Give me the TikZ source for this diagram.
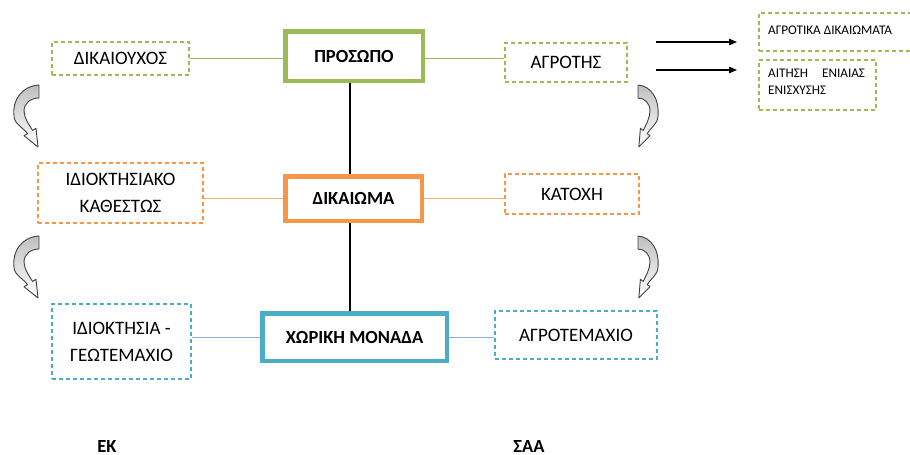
\documentclass[tikz,border=0pt]{standalone}
\usepackage{fontspec}
\setmainfont{Carlito}
\usetikzlibrary{arrows.meta}

\definecolor{grn}{HTML}{9BBB59}
\definecolor{org}{HTML}{F79646}
\definecolor{blu}{HTML}{4BACC6}
\definecolor{bluline}{HTML}{8FAADC}
\definecolor{arrowedge}{HTML}{404040}

\tikzset{
  mainbox/.style={draw, line width=4.5, fill=white, inner sep=0,
    font=\fontsize{18.5}{27}\selectfont\bfseries},
  sidebox/.style={draw, line width=1.3, dash pattern=on 4 off 3, inner sep=0,
    align=center, font=\fontsize{19}{27}\selectfont},
  smallbox/.style={draw=grn, line width=1.3, dash pattern=on 4 off 3, inner sep=0},
  smalltext/.style={inner sep=0, anchor=west, align=left,
    font=\fontsize{13.2}{17}\selectfont},
  link/.style={line width=1},
  spineline/.style={line width=1.2, black},
  pointer/.style={line width=1.2, -{Triangle[length=8,width=6.5]}},
  curvearrow/.style={draw=arrowedge, line width=0.9, line join=round,
    top color=gray!50, bottom color=white}
}

% curved block arrow, drawn in local coordinates from its upper end
\newcommand{\curvedblock}[1]{%
  \begin{scope}[#1]
    \path[curvearrow]
      (0,0) .. controls (-17,1) and (-27,15) .. (-25,31)
            .. controls (-25,39) and (-14.7,43.5) .. (-11.5,48.6)
      -- (-15,50.7) -- (-1,62) -- (-3,43.3) -- (-6.45,45.4)
            .. controls (-9.6,40.3) and (-15,33) .. (-15,26)
            .. controls (-15,18) and (-8,13) .. (0,13)
      -- cycle;
  \end{scope}}

\begin{document}
\begin{tikzpicture}[x=1pt, y=-1pt]
  \useasboundingbox (0,0) rectangle (910,455);

  % central column
  \node[mainbox, draw=grn, minimum width=137.5, minimum height=49.5] (pros) at (354,56) {ΠΡΟΣΩΠΟ};
  \node[mainbox, draw=org, minimum width=136.5, minimum height=44.5] (dikm) at (353.5,198.5) {ΔΙΚΑΙΩΜΑ};
  \node[mainbox, draw=blu, minimum width=184.5, minimum height=47.5] (xor) at (354.5,337) {ΧΩΡΙΚΗ ΜΟΝΑΔΑ};

  % left column
  \node[sidebox, draw=grn, minimum width=137, minimum height=33] (dik) at (120.5,58.5) {ΔΙΚΑΙΟΥΧΟΣ};
  \node[sidebox, draw=org, minimum width=165, minimum height=60] (idk) at (120.5,193) {ΙΔΙΟΚΤΗΣΙΑΚΟ\\ΚΑΘΕΣΤΩΣ};
  \node[sidebox, draw=blu, minimum width=139, minimum height=75] (idg) at (121.5,341.5) {ΙΔΙΟΚΤΗΣΙΑ -\\ΓΕΩΤΕΜΑΧΙΟ};

  % right column
  \node[sidebox, draw=grn, minimum width=122, minimum height=39] (agr) at (566,62.5) {ΑΓΡΟΤΗΣ};
  \node[sidebox, draw=org, minimum width=134, minimum height=40] (kat) at (572,194) {ΚΑΤΟΧΗ};
  \node[sidebox, draw=blu, minimum width=162, minimum height=48] (agt) at (576,335) {ΑΓΡΟΤΕΜΑΧΙΟ};

  % far right boxes
  \node[smallbox, minimum width=152, minimum height=38] (agd) at (835,32) {};
  \node[smallbox, minimum width=117, minimum height=50] (ait) at (817.5,85) {};
  \node[smalltext] (agdtxt) at (768,30) {ΑΓΡΟΤΙΚΑ ΔΙΚΑΙΩΜΑΤΑ};
  \node[smalltext, anchor=north west] (aittxt) at (768,69) {ΑΙΤΗΣΗ\hspace{14pt}ΕΝΙΑΙΑΣ\\ΕΝΙΣΧΥΣΗΣ};

  % connectors
  \coordinate (spine) at (350,0);
  \draw[spineline] (pros.south -| spine) -- (dikm.north -| spine);
  \draw[spineline] (dikm.south -| spine) -- (xor.north -| spine);

  \draw[link, draw=grn] (dik.east) -- (dik.east -| pros.west);
  \draw[link, draw=grn] (pros.east |- dik.east) -- (agr.west |- dik.east);
  \draw[link, draw=org!80] (idk.east |- dikm.west) -- (dikm.west);
  \draw[link, draw=org!80] (dikm.east) -- (kat.west |- dikm.east);
  \draw[link, draw=bluline] (idg.east |- xor.west) -- (xor.west);
  \draw[link, draw=bluline] (xor.east) -- (agt.west |- xor.east);

  % arrows toward the far right boxes
  \coordinate (p1s) at (656,42);
  \coordinate (p1e) at (737,42);
  \coordinate (p2s) at (656,70);
  \coordinate (p2e) at (737,70);
  \draw[pointer] (p1s) -- (p1e);
  \draw[pointer] (p2s) -- (p2e);

  % curved block arrows between rows
  \curvedblock{shift={(39,85)}}
  \curvedblock{shift={(39,236)}}
  \curvedblock{shift={(638,85)}, xscale=-0.8}
  \curvedblock{shift={(638,236)}, xscale=-0.8}

  % column captions
  \node[inner sep=0, font=\fontsize{18.5}{21}\selectfont\bfseries] (ek) at (107,446) {ΕΚ};
  \node[inner sep=0, font=\fontsize{18.5}{21}\selectfont\bfseries] (saa) at (529,446) {ΣΑΑ};
\end{tikzpicture}
\end{document}
